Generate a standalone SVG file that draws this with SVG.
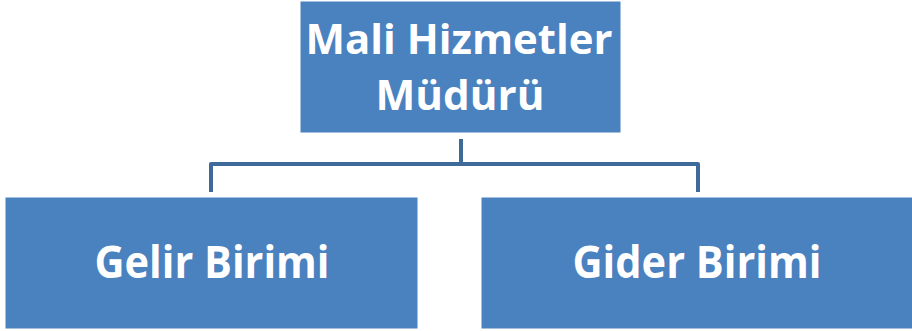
<svg xmlns="http://www.w3.org/2000/svg" width="912" height="331" viewBox="0 0 912 331">
<style>
.box{fill:#4a81bf;stroke:#ffffff;stroke-width:1}
.lbl{fill:#ffffff;font-family:"Open Sans","Liberation Sans",sans-serif;font-weight:bold;text-anchor:middle}
.con{fill:none;stroke:#3e6a9a;stroke-width:4;stroke-linejoin:round}
</style>
<rect width="912" height="331" fill="#ffffff"/>
<g id="connectors">
<path class="con" d="M461 139V164"/>
<path class="con" d="M211 192V164H698V192"/>
</g>
<g id="node-mudur">
<rect class="box" x="300" y="1" width="321" height="132"/>
<text class="lbl" x="459" y="54" font-size="42" textLength="307" lengthAdjust="spacingAndGlyphs">Mali Hizmetler</text>
<text class="lbl" x="460" y="110" font-size="42" textLength="169" lengthAdjust="spacingAndGlyphs">Müdürü</text>
</g>
<g id="node-gelir">
<rect class="box" x="5" y="197" width="413" height="132"/>
<text class="lbl" x="212" y="278" font-size="44" textLength="235" lengthAdjust="spacingAndGlyphs">Gelir Birimi</text>
</g>
<g id="node-gider">
<rect class="box" x="481" y="197" width="432" height="132"/>
<text class="lbl" x="697" y="278" font-size="44" textLength="249" lengthAdjust="spacingAndGlyphs">Gider Birimi</text>
</g>
</svg>
